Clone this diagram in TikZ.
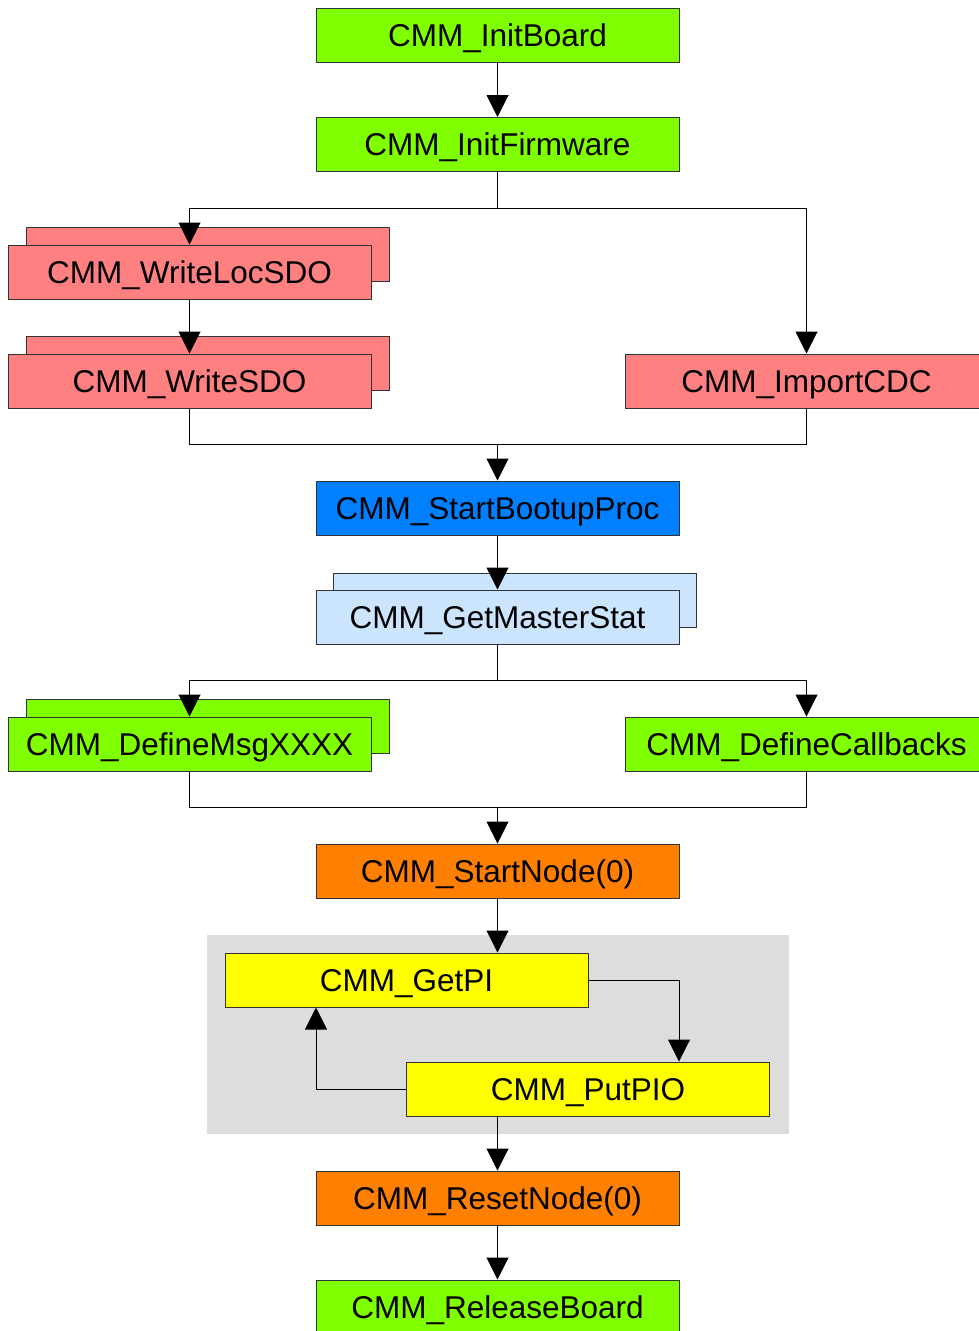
\documentclass[tikz,border=0pt]{standalone}
\usepackage{fontspec}
\setmainfont{Liberation Sans}
\usetikzlibrary{arrows.meta,calc}
\definecolor{cgreen}{HTML}{80FF00}
\definecolor{cred}{HTML}{FF8080}
\definecolor{cblue}{HTML}{0080FF}
\definecolor{clblue}{HTML}{CCE5FF}
\definecolor{corange}{HTML}{FF8000}
\definecolor{cyellow}{HTML}{FFFF00}
\definecolor{cgray}{HTML}{DDDDDD}
\tikzset{
  box/.style={draw=black!80, line width=1pt, minimum width=363pt, minimum height=54pt, inner sep=0pt, text height=25pt, text depth=3pt, font=\fontsize{31.5}{36}\selectfont, text=black},
  arr/.style={line width=1pt, -{Triangle[width=22pt,length=22pt]}},
  ln/.style={line width=1pt},
}
\begin{document}
\begin{tikzpicture}[x=1pt,y=-1pt]
\useasboundingbox (0,0) rectangle (979,1331);
\clip (0,0) rectangle (979,1331);
\fill[cgray] (207,935) rectangle (789,1134);
% back boxes
\node[box, fill=cred] (wlb) at (207.5,254) {};
\node[box, fill=cred] (wsb) at (207.5,363) {};
\node[box, fill=clblue] (gmb) at (514.5,600) {};
\node[box, fill=cgreen] (dmb) at (207.5,726) {};
% front boxes
\node[box, fill=cgreen] (ib) at (497.5,35.5) {CMM\_InitBoard};
\node[box, fill=cgreen] (if) at (497.5,144.5) {CMM\_InitFirmware};
\node[box, fill=cred] (wl) at (189.5,272) {CMM\_WriteLocSDO};
\node[box, fill=cred] (ws) at (189.5,381) {CMM\_WriteSDO};
\node[box, fill=cred] (ic) at (806.5,381) {CMM\_ImportCDC};
\node[box, fill=cblue] (sb) at (497.5,508) {CMM\_StartBootupProc};
\node[box, fill=clblue] (gm) at (497.5,617) {CMM\_GetMasterStat};
\node[box, fill=cgreen] (dm) at (189.5,744) {CMM\_DefineMsgXXXX};
\node[box, fill=cgreen] (dc) at (806.5,744) {CMM\_DefineCallbacks};
\node[box, fill=corange] (sn) at (497.5,871) {CMM\_StartNode(0)};
\node[box, fill=cyellow] (gp) at (406.5,980) {CMM\_GetPI};
\node[box, fill=cyellow] (pp) at (588,1089) {CMM\_PutPIO};
\node[box, fill=corange] (rn) at (497.5,1198) {CMM\_ResetNode(0)};
\node[box, fill=cgreen] (rb) at (497.5,1307) {CMM\_ReleaseBoard};
% junctions
\coordinate (j1) at (497.5,208);
\coordinate (j2) at (497.5,444);
\coordinate (j3) at (497.5,680);
\coordinate (j4) at (497.5,807);
% connectors
\draw[arr] (ib.south) -- (if.north);
\draw[ln] (if.south) -- (j1);
\draw[arr] (j1) -| (wl.north);
\draw[arr] (j1) -| (ic.north);
\draw[arr] (wl.south) -- (ws.north);
\draw[ln] (ws.south) |- (j2);
\draw[ln] (ic.south) |- (j2);
\draw[arr] (j2) -- (sb.north);
\draw[arr] (sb.south) -- (gm.north);
\draw[ln] (gm.south) -- (j3);
\draw[arr] (j3) -| (dm.north);
\draw[arr] (j3) -| (dc.north);
\draw[ln] (dm.south) |- (j4);
\draw[ln] (dc.south) |- (j4);
\draw[arr] (j4) -- (sn.north);
\draw[arr] (sn.south) -- (sn.south |- gp.north);
\draw[arr] (gp.east) -| ([xshift=91pt]pp.north);
\draw[arr] (pp.west) -| ([xshift=-90.5pt]gp.south);
\draw[arr] (rn.north |- pp.south) -- (rn.north);
\draw[arr] (rn.south) -- (rb.north);
\end{tikzpicture}
\end{document}
